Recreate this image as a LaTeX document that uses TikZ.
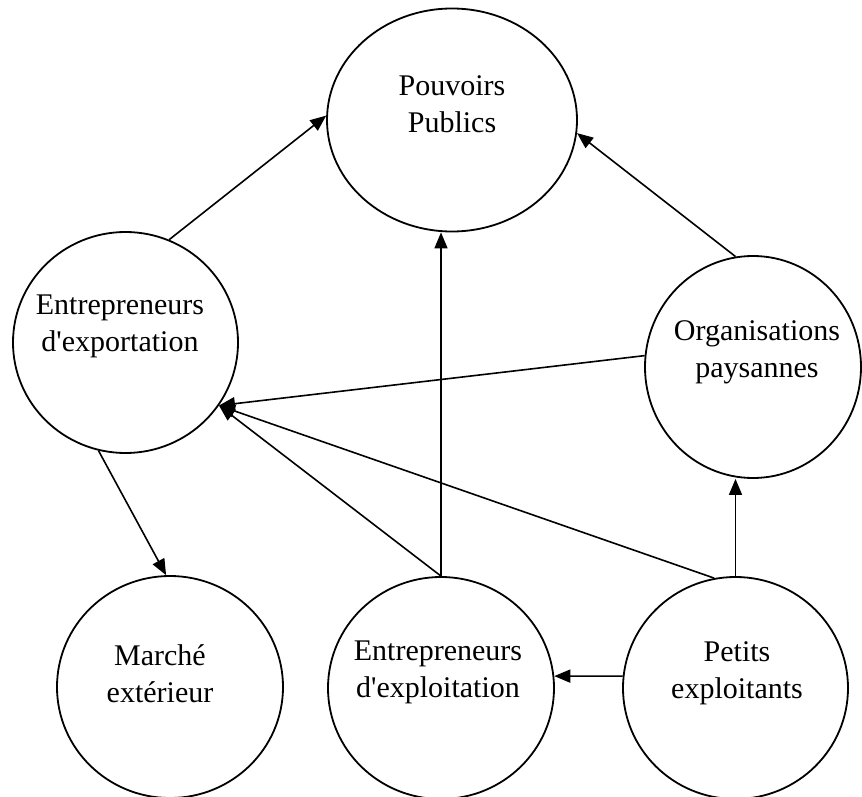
\documentclass[tikz,border=0pt]{standalone}
\usepackage{fontspec}
\setmainfont{Liberation Serif}[Ligatures=TeXOff]
\usetikzlibrary{shapes.geometric,arrows.meta}
\begin{document}
\begin{tikzpicture}[x=1pt,y=-1pt,
  ell/.style={draw, line width=1.8pt, ellipse, inner sep=0pt},
  txt/.style={align=center, inner sep=0pt, font=\fontsize{30}{37}\selectfont},
  arr/.style={line width=1.6pt, -{Triangle[length=16pt,width=13pt]}}]
\useasboundingbox (0,0) rectangle (862,797);
% ellipses
\node[ell, minimum width=250pt, minimum height=223pt] (pp) at (452,120) {};
\node[ell, minimum width=225pt, minimum height=221pt] (ex) at (125.5,342.5) {};
\node[ell, minimum width=216pt, minimum height=222pt] (op) at (753,367) {};
\node[ell, minimum width=226pt, minimum height=222pt] (me) at (170,687) {};
\node[ell, minimum width=226pt, minimum height=222pt] (ee) at (441,688) {};
\node[ell, minimum width=225pt, minimum height=222pt] (pe) at (735.5,688) {};
% texts
\node[txt] (ppt) at (452,104) {Pouvoirs\\Publics};
\node[txt] (ext) at (120,326) {Entrepreneurs\\d'exportation};
\node[txt] (opt) at (757,352) {Organisations\\paysannes};
\node[txt] (met) at (160,674) {Marché\\extérieur};
\node[txt] (eet) at (438,672) {Entrepreneurs\\d'exploitation};
\node[txt] (pet) at (737,673) {Petits\\exploitants};
% connectors
\coordinate (hub) at (ex.-34);
\draw[arr] (ex.67) -- (pp.178);
\draw[arr] (op.99) -- (pp.-6);
\draw[arr] (ee.north) -- (ee.north |- pp.south);
\draw[arr] (op.174) -- (hub);
\draw[arr] (ee.north) -- (hub);
\draw[arr] (pe.101.5) -- (hub);
\draw[arr] (pe.north) -- (pe.north |- op.south);
\draw[arr] (pe.174) -- (ee.6);
\draw[arr] (ex.256) -- (me.92);
\end{tikzpicture}
\end{document}
